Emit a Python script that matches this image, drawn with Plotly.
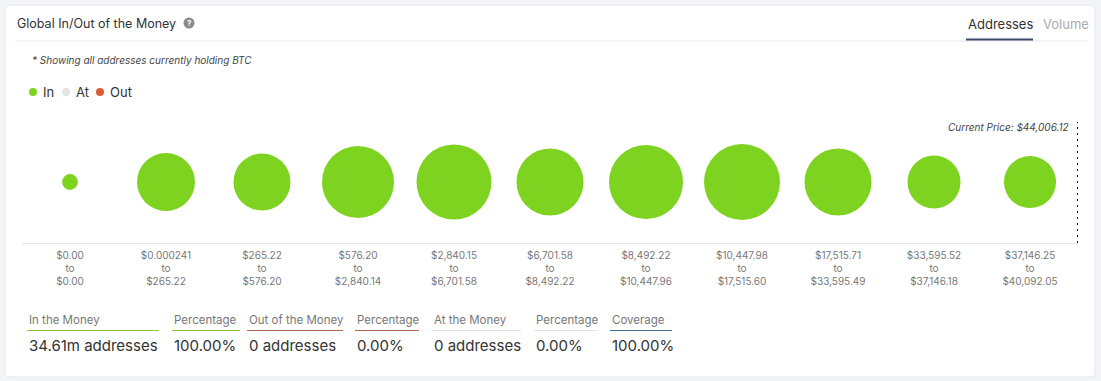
import plotly.graph_objects as go

# ---- data ----
range_from = ["$0.00", "$0.000241", "$265.22", "$576.20", "$2,840.15", "$6,701.58",
              "$8,492.22", "$10,447.98", "$17,515.71", "$33,595.52", "$37,146.25"]
range_to = ["$0.00", "$265.22", "$576.20", "$2,840.14", "$6,701.58", "$8,492.22",
            "$10,447.96", "$17,515.60", "$33,595.49", "$37,146.18", "$40,092.05"]
addresses_m = [0.20, 2.68, 2.59, 4.13, 4.48, 3.58, 4.36, 4.60, 3.58, 2.24, 2.16]
status = ["In"] * 11
current_price = "$44,006.12"

stat_labels = ["In the Money", "Percentage", "Out of the Money", "Percentage",
               "At the Money", "Percentage", "Coverage"]
stat_values = ["34.61m addresses", "100.00%", "0 addresses", "0.00%",
               "0 addresses", "0.00%", "100.00%"]

# ---- style ----
W, H = 1101, 381
ML, MR, MT, MB = 22, 23, 121, 138
PW, PH = W - ML - MR, H - MT - MB
GREEN = "#7ed321"
FONT = "Inter, Roboto, sans-serif"
status_color = {"In": GREEN, "At": "#e3e3e3", "Out": "#dd5a37"}


def px(x):
    return (x - ML) / PW


def py(y):
    return (H - MB - y) / PH


xs = list(range(len(addresses_m)))
ticktext = [f"{a}<br>to<br>{b}" for a, b in zip(range_from, range_to)]
max_d = 76
sizeref = max(addresses_m) / (2 * (max_d / 2) ** 2)

fig = go.Figure()
fig.add_trace(go.Scatter(
    x=xs, y=[0] * len(xs), mode="markers",
    marker=dict(size=addresses_m, sizemode="area", sizeref=sizeref,
                color=[status_color[s] for s in status], line=dict(width=0),
                opacity=1),
    hovertemplate="%{marker.size}m addresses<extra></extra>",
    showlegend=False,
))

shapes = []
annotations = []


def text(x, y, s, size, color, anchor="left"):
    annotations.append(dict(x=px(x), y=py(y), xref="paper", yref="paper", xanchor=anchor,
                            yanchor="middle", showarrow=False, text=s,
                            font=dict(size=size, color=color, family=FONT)))


# card
x0, y0, x1, y1, r = 5, 5, 1095, 377, 5
path = (f"M {px(x0 + r)} {py(y0)} L {px(x1 - r)} {py(y0)} "
        f"Q {px(x1)} {py(y0)} {px(x1)} {py(y0 + r)} L {px(x1)} {py(y1 - r)} "
        f"Q {px(x1)} {py(y1)} {px(x1 - r)} {py(y1)} L {px(x0 + r)} {py(y1)} "
        f"Q {px(x0)} {py(y1)} {px(x0)} {py(y1 - r)} L {px(x0)} {py(y0 + r)} "
        f"Q {px(x0)} {py(y0)} {px(x0 + r)} {py(y0)} Z")
shapes.append(dict(type="path", xref="paper", yref="paper", path=path,
                   fillcolor="white", line=dict(color="#e4e6ea", width=1), layer="below"))
# header separator
shapes.append(dict(type="line", xref="paper", yref="paper", x0=px(15), x1=px(1088),
                   y0=py(41), y1=py(41), line=dict(color="#e8e8e8", width=1)))
# tab underline
shapes.append(dict(type="line", xref="paper", yref="paper", x0=px(966), x1=px(1033),
                   y0=py(39.5), y1=py(39.5), line=dict(color="#3b4a6b", width=2)))
# current price dotted line
shapes.append(dict(type="line", xref="x", yref="paper", x0=10.5, x1=10.5,
                   y0=0, y1=py(122), line=dict(color="#111", width=2, dash="2px,4px")))

# title + icon
text(15, 23, "Global In/Out of the Money", 12.5, "#333")
shapes.append(dict(type="circle", xref="paper", yref="paper", x0=px(183.5), x1=px(194.5),
                   y0=py(17.5), y1=py(28.5), fillcolor="#8a8a8a", line=dict(width=0)))
text(189, 23, "<b>?</b>", 8, "white", "center")
# tabs
text(966, 24, "Addresses", 13, "#333")
text(1041, 24, "Volume", 13, "#aaa")
# subtitle
text(30, 60, "<i>* Showing all addresses currently holding BTC</i>", 10, "#444")
# legend
for cx, lbl in [(33, "In"), (66, "At"), (100, "Out")]:
    shapes.append(dict(type="circle", xref="paper", yref="paper", x0=px(cx - 4), x1=px(cx + 4),
                       y0=py(88), y1=py(96), fillcolor=status_color[lbl], line=dict(width=0)))
    text(cx + 8, 92, lbl, 13, "#333")
# current price label
text(1071, 127, f"<i>Current Price: {current_price}</i>", 10, "#444", "right")

# stats
col_x = [27, 172, 247, 355, 432, 534, 610]
col_end = [159, 240, 343, 419, 521, 598, 672]
col_color = ["#8dc63f", "#8dc63f", "#b5654a", "#b5654a", "#e2e2e2", "#e2e2e2", "#3d6e8f"]
for lbl, val, cx, ce, cc in zip(stat_labels, stat_values, col_x, col_end, col_color):
    text(cx, 320, lbl, 11.5, "#777")
    shapes.append(dict(type="line", xref="paper", yref="paper", x0=px(cx), x1=px(ce),
                       y0=py(330.5), y1=py(330.5), line=dict(color=cc, width=1)))
    text(cx, 345, val, 15, "#333")

fig.update_layout(
    width=W, height=H,
    margin=dict(l=ML, r=MR, t=MT, b=MB),
    paper_bgcolor="#f3f4f7", plot_bgcolor="rgba(0,0,0,0)",
    font=dict(family=FONT),
    xaxis=dict(range=[-0.5, 10.5], tickvals=xs, ticktext=ticktext, showgrid=False,
               zeroline=False, showline=True, linecolor="#e6e6e6", linewidth=1,
               tickfont=dict(size=10, color="#777", family=FONT), ticks="",
               ticklabelstandoff=3, fixedrange=True),
    yaxis=dict(range=[-1, 1], visible=False, fixedrange=True),
    shapes=shapes, annotations=annotations,
    showlegend=False,
)
fig.write_html("out.html", post_script="document.body.style.margin='0';",
               config={"displayModeBar": False})
